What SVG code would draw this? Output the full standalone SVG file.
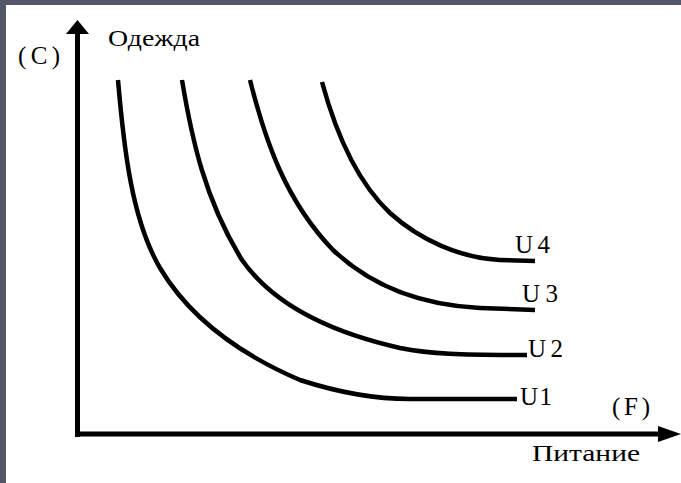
<svg xmlns="http://www.w3.org/2000/svg" width="681" height="483" viewBox="0 0 681 483">
<style>
.curve{fill:none;stroke:#000;stroke-width:4.5;stroke-linejoin:round;stroke-linecap:butt}
.axis{fill:none;stroke:#000;stroke-width:5}
.lbl{font-family:"Liberation Serif","DejaVu Serif",serif;font-size:25px;fill:#000}
.ru{font-family:"Liberation Serif","DejaVu Serif",serif;font-size:23px;fill:#000}
</style>
<rect x="0" y="0" width="681" height="483" fill="#ffffff"/>
<rect x="0" y="0" width="681" height="5" fill="#535568"/>
<rect x="0" y="0" width="6" height="483" fill="#535568"/>
<g id="axes">
<line class="axis" x1="77.5" y1="32" x2="77.5" y2="437"/>
<polygon points="77.5,20 89,34 66,34" fill="#000"/>
<line class="axis" x1="75" y1="434" x2="662" y2="434"/>
<polygon points="681,434 658,426 658,442" fill="#000"/>
</g>
<g id="connectors">
<path id="U1-curve" class="curve" d="M118,80 C124,150 132,220 160,268 C185,310 230,350 300,380 C340,393 380,399 410,399 L517,399"/>
<path id="U2-curve" class="curve" d="M182,80 C192,140 205,200 242,260 C270,300 320,330 400,348 C430,354 460,355 527,355"/>
<path id="U3-curve" class="curve" d="M250,80 C265,140 285,200 333,250 C370,285 420,305 480,308 L535,310"/>
<path id="U4-curve" class="curve" d="M322,82 C335,130 355,180 390,213 C420,240 460,258 500,260 L535,261"/>
</g>
<g id="label-odezhda"><text class="ru" x="108" y="46" textLength="92" lengthAdjust="spacingAndGlyphs">Одежда</text></g>
<g id="label-C"><text class="lbl" x="18" y="64" textLength="42" lengthAdjust="spacing">(C)</text></g>
<g id="label-U4"><text class="lbl" x="515" y="253" textLength="35" lengthAdjust="spacing">U4</text></g>
<g id="label-U3"><text class="lbl" x="522" y="302" textLength="36" lengthAdjust="spacing">U3</text></g>
<g id="label-U2"><text class="lbl" x="528" y="357" textLength="35" lengthAdjust="spacing">U2</text></g>
<g id="label-U1"><text class="lbl" x="520" y="405" textLength="32" lengthAdjust="spacing">U1</text></g>
<g id="label-F"><text class="lbl" x="612" y="415" textLength="38" lengthAdjust="spacing">(F)</text></g>
<g id="label-pitanie"><text class="ru" x="532" y="461" font-size="25" textLength="108" lengthAdjust="spacingAndGlyphs">Питание</text></g>
</svg>
